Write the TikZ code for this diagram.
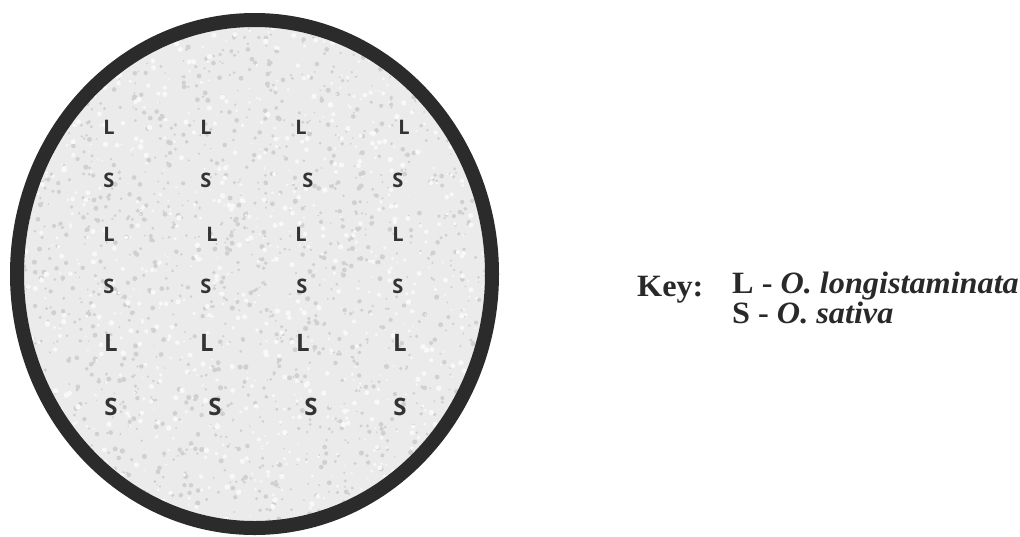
\documentclass[tikz,border=0pt]{standalone}
\usepackage{fontspec}
\setmainfont[FakeStretch=1.04]{Liberation Serif}
\newfontfamily\plotfont{Open Sans}
\definecolor{ink}{HTML}{333333}
\definecolor{rim}{HTML}{2B2B2B}
\definecolor{paper}{HTML}{EBEBEB}
\definecolor{speckD}{HTML}{D0D0D0}
\definecolor{speckL}{HTML}{F8F8F8}
\tikzset{
  plant/.style={inner sep=0pt, text=ink, font=\plotfont\bfseries\fontsize{20}{20}\selectfont},
  bigplant/.style={inner sep=0pt, text=ink, font=\plotfont\bfseries\fontsize{24}{24}\selectfont},
  keytext/.style={inner sep=0pt, anchor=base west, text=ink!80!black, font=\bfseries\fontsize{31}{27}\selectfont},
}
\begin{document}
\begin{tikzpicture}[x=1pt,y=-1pt]
\useasboundingbox (0,0) rectangle (1020,536);
% field
\fill[paper] (254.5,274) ellipse [x radius=237.5, y radius=254];
\begin{scope}
\clip (254.5,274) ellipse [x radius=237.5, y radius=254];
\pgfmathsetseed{7}
\foreach \i in {1,...,1600}{
  \pgfmathsetmacro{\px}{17+rnd*475}
  \pgfmathsetmacro{\py}{20+rnd*510}
  \pgfmathsetmacro{\pr}{0.8+rnd*1.8}
  \fill[speckD] (\px,\py) circle [radius=\pr];
}
\foreach \i in {1,...,1000}{
  \pgfmathsetmacro{\px}{17+rnd*475}
  \pgfmathsetmacro{\py}{20+rnd*510}
  \pgfmathsetmacro{\pr}{0.8+rnd*2}
  \fill[speckL] (\px,\py) circle [radius=\pr];
}
\end{scope}
\draw[rim, line width=14pt] (254.5,274) ellipse [x radius=237.5, y radius=254];
% row 1
\node[plant] (l11) at (109,127) {L};
\node[plant] (l12) at (206,127) {L};
\node[plant] (l13) at (301,127) {L};
\node[plant] (l14) at (404,127) {L};
% row 2
\node[plant] (s21) at (109,180) {S};
\node[plant] (s22) at (206,180) {S};
\node[plant] (s23) at (308,180) {S};
\node[plant] (s24) at (398,180) {S};
% row 3
\node[plant] (l31) at (109,234) {L};
\node[plant] (l32) at (212,234) {L};
\node[plant] (l33) at (301,234) {L};
\node[plant] (l34) at (398,234) {L};
% row 4
\node[plant] (s41) at (109,286) {S};
\node[plant] (s42) at (206,286) {S};
\node[plant] (s43) at (302,286) {S};
\node[plant] (s44) at (398,286) {S};
% row 5
\node[bigplant] (l51) at (111,343) {L};
\node[bigplant] (l52) at (207,343) {L};
\node[bigplant] (l53) at (303,343) {L};
\node[bigplant] (l54) at (400,343) {L};
% row 6
\node[bigplant] (s61) at (111,407) {S};
\node[bigplant] (s62) at (215,407) {S};
\node[bigplant] (s63) at (311,407) {S};
\node[bigplant] (s64) at (400,407) {S};
% key
\node[keytext] (key) at (637,296) {Key:};
\node[keytext, align=left] (keyL) at (732,323) {L - \textit{O. longistaminata}\\S - \textit{O. sativa}};
\end{tikzpicture}
\end{document}
